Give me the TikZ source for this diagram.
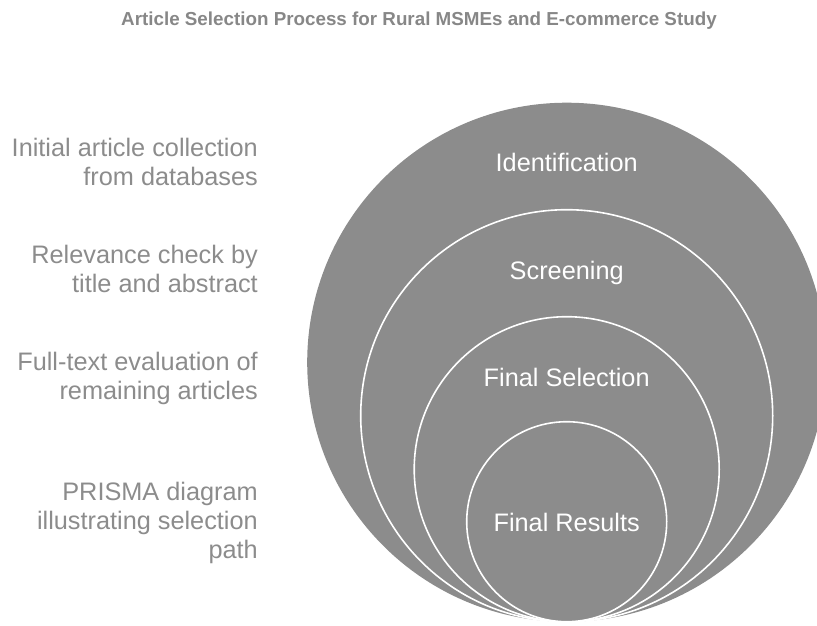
\documentclass[tikz,border=0pt]{standalone}
\usepackage{fontspec}
\setmainfont{Liberation Sans}
\definecolor{circgray}{HTML}{8C8C8C}
\definecolor{textgray}{HTML}{8C8C8C}
\definecolor{titlegray}{HTML}{878787}
\begin{document}
\begin{tikzpicture}[x=1pt,y=-1pt,
  ring/.style={fill=circgray, draw=white, line width=1.6pt},
  ringlabel/.style={text=white, font=\fontsize{25.3}{29}\selectfont, inner sep=0pt, anchor=base},
  sidelabel/.style={text=textgray, font=\fontsize{25.3}{29.2}\selectfont, inner sep=0pt, anchor=base east},
  titlelabel/.style={text=titlegray, font=\bfseries\fontsize{18.8}{22}\selectfont, inner sep=0pt, anchor=base}]
\useasboundingbox (0,0) rectangle (817,625);
\clip (0,0) rectangle (817,625);
% concentric circles, tangent at the bottom
\coordinate (c1) at (566.7,362.2);
\coordinate (c2) at (566.7,415.7);
\coordinate (c3) at (566.7,469.2);
\coordinate (c4) at (566.7,521.7);
\fill[circgray] (c1) circle[radius=259.5pt];
\draw[ring] (c2) circle[radius=206pt];
\draw[ring] (c3) circle[radius=152.5pt];
\draw[ring] (c4) circle[radius=100pt];
% title
\node[titlelabel] (title) at (419,25) {Article Selection Process for Rural MSMEs and E-commerce Study};
% circle labels
\node[ringlabel] (ident) at (566.7,171.4) {Identification};
\node[ringlabel] (screen) at (566.7,279.3) {Screening};
\node[ringlabel] (finsel) at (566.7,386) {Final Selection};
\node[ringlabel] (finres) at (566.7,531) {Final Results};
% side labels
\node[sidelabel] (s1) at (258,156.7) {\begin{tabular}[t]{@{}r@{}}Initial article collection\\from databases\end{tabular}};
\node[sidelabel] (s2) at (258,263.3) {\begin{tabular}[t]{@{}r@{}}Relevance check by\\title and abstract\end{tabular}};
\node[sidelabel] (s3) at (258,370) {\begin{tabular}[t]{@{}r@{}}Full-text evaluation of\\remaining articles\end{tabular}};
\node[sidelabel] (s4) at (258,500) {\begin{tabular}[t]{@{}r@{}}PRISMA diagram\\illustrating selection\\path\end{tabular}};
\end{tikzpicture}
\end{document}
